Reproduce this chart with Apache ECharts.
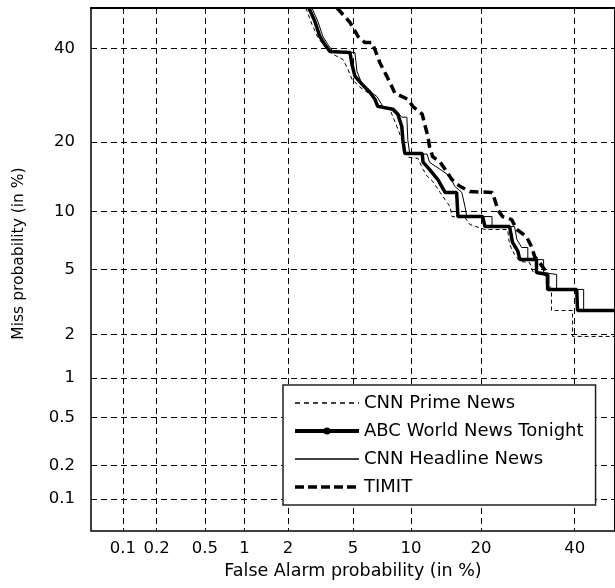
<!DOCTYPE html>
<html>
<head>
<meta charset="utf-8">
<script src="https://cdn.jsdelivr.net/npm/echarts@6/dist/echarts.min.js"></script>
<style>
  html, body { margin: 0; padding: 0; background: #fff; }
  #det { width: 615px; height: 588px; }
</style>
</head>
<body>
<div id="det"></div>
<script>
// tick labels (percent) used on both axes
var tickLabels = ['0.1', '0.2', '0.5', '1', '2', '5', '10', '20', '40'];

// CNN Prime News (false alarm %, miss %)
var primeFA = [2.61, 2.85, 3.10, 3.52, 3.93, 4.38, 4.68, 4.93, 5.47, 6.34, 6.81, 7.87, 8.54, 9.03, 9.34, 9.66, 10.8, 11.4, 11.9, 12.6, 13.6, 14.3, 15.0, 15.3, 17.3, 18.1, 20.7, 21.6, 25.0, 25.4, 26.4, 27.5, 29.6, 30.3, 32.9, 33.6, 34.5, 34.5, 39.5, 39.5, 50];
var primeMiss = [50, 45.9, 42.7, 39.7, 38.3, 37.3, 35.0, 32.7, 30.9, 29.1, 27.2, 26.2, 22.8, 20.4, 18.7, 17.4, 17.2, 15.5, 14.5, 13.8, 12.3, 11.4, 10.6, 9.47, 9.37, 8.66, 8.17, 8.17, 8.17, 6.84, 6.05, 5.54, 5.46, 4.87, 4.68, 4.38, 3.72, 2.85, 2.85, 1.94, 1.94];

// ABC World News Tonight
var abcFA = [2.73, 2.97, 3.19, 3.42, 3.67, 4.80, 4.93, 5.12, 5.60, 6.19, 6.58, 6.81, 8.15, 8.63, 9.03, 9.14, 9.34, 11.3, 11.4, 12.2, 13.3, 14.3, 16.0, 16.2, 20.3, 20.7, 25.4, 26.0, 27.1, 27.5, 31.1, 31.1, 33.6, 33.6, 40.5, 40.7, 50];
var abcMiss = [50, 46.7, 42.9, 40.9, 39.2, 39.0, 36.1, 33.4, 31.6, 29.8, 28.3, 26.8, 26.2, 25.2, 22.8, 20.4, 18.0, 18.0, 16.6, 15.5, 14.0, 12.3, 12.3, 9.47, 9.47, 8.46, 8.46, 7.01, 6.28, 5.67, 5.67, 4.80, 4.68, 3.83, 3.83, 2.85, 2.85];

// CNN Headline News
var headFA = [2.85, 3.10, 3.33, 3.57, 3.83, 5.12, 5.26, 5.67, 6.74, 7.24, 8.34, 9.03, 9.56, 9.66, 9.87, 11.9, 12.2, 13.6, 15.0, 15.7, 16.8, 17.3, 17.6, 22.0, 22.0, 26.4, 26.9, 27.9, 29.2, 29.2, 32.7, 32.7, 35.7, 35.7, 42.2, 42.2, 50];
var headMiss = [50, 46.7, 42.9, 40.9, 39.2, 39.0, 34.5, 31.1, 28.9, 26.8, 26.2, 24.6, 24.6, 20.4, 17.9, 17.9, 16.6, 15.5, 14.5, 13.1, 12.3, 10.6, 9.47, 9.47, 8.46, 8.46, 7.25, 6.59, 6.59, 5.67, 5.67, 4.80, 4.68, 3.83, 3.83, 2.85, 2.85];

// TIMIT
var timitFA = [4.05, 4.80, 5.33, 5.81, 6.34, 6.58, 6.98, 7.59, 8.05, 8.34, 9.66, 10.2, 11.3, 11.6, 12.0, 12.2, 12.6, 13.6, 14.3, 15.3, 16.5, 18.1, 22.0, 22.5, 23.1, 24.0, 25.8, 26.9, 28.9, 30.0, 30.7, 31.8, 32.9, 33.6, 33.6];
var timitMiss = [50, 46.4, 42.9, 41.4, 41.4, 39.7, 36.6, 33.4, 31.1, 29.6, 28.3, 26.8, 25.2, 23.2, 21.0, 19.2, 17.5, 16.6, 15.5, 14.0, 13.1, 12.4, 12.3, 11.4, 10.2, 9.47, 9.16, 8.17, 7.52, 6.67, 5.89, 5.46, 5.00, 4.68, 3.83];

// inverse normal CDF (Acklam) -> DET axis is in normal deviates
function probit(p) {
    var a = [-3.969683028665376e+01, 2.209460984245205e+02, -2.759285104469687e+02, 1.383577518672690e+02, -3.066479806614716e+01, 2.506628277459239e+00];
    var b = [-5.447609879822406e+01, 1.615858368580409e+02, -1.556989798598866e+02, 6.680131188771972e+01, -1.328068155288572e+01];
    var c = [-7.784894002430293e-03, -3.223964580411365e-01, -2.400758276161838e+00, -2.549732539343734e+00, 4.374664141464968e+00, 2.938163982698783e+00];
    var d = [7.784695709041462e-03, 3.224671290700398e-01, 2.445134137142996e+00, 3.754408661907416e+00];
    var pl = 0.02425, q, r;
    if (p < pl) {
        q = Math.sqrt(-2 * Math.log(p));
        return (((((c[0]*q+c[1])*q+c[2])*q+c[3])*q+c[4])*q+c[5]) / ((((d[0]*q+d[1])*q+d[2])*q+d[3])*q+1);
    }
    if (p > 1 - pl) {
        q = Math.sqrt(-2 * Math.log(1 - p));
        return -(((((c[0]*q+c[1])*q+c[2])*q+c[3])*q+c[4])*q+c[5]) / ((((d[0]*q+d[1])*q+d[2])*q+d[3])*q+1);
    }
    q = p - 0.5; r = q * q;
    return (((((a[0]*r+a[1])*r+a[2])*r+a[3])*r+a[4])*r+a[5])*q / (((((b[0]*r+b[1])*r+b[2])*r+b[3])*r+b[4])*r+1);
}

function toDet(fa, miss) {
    return fa.map(function (v, i) {
        return [probit(v / 100), probit(miss[i] / 100)];
    });
}

var tickPos = tickLabels.map(function (t) { return probit(parseFloat(t) / 100); });
function tickFmt(value) {
    var best = 0;
    for (var i = 1; i < tickPos.length; i++) {
        if (Math.abs(tickPos[i] - value) < Math.abs(tickPos[best] - value)) best = i;
    }
    return tickLabels[best];
}

var FONT = 'DejaVu Sans';
var axMin = probit(0.0005);
var axMax = 0;

var chart = echarts.init(document.getElementById('det'), null, { renderer: 'canvas' });

var option = {
    animation: false,
    backgroundColor: '#fff',
    grid: {
        left: 91,
        right: -1,
        top: 8,
        bottom: 57,
        show: true,
        borderColor: '#000',
        borderWidth: 1.5
    },
    legend: {
        orient: 'vertical',
        left: 283,
        top: 385,
        padding: [9, 12, 9, 10],
        itemWidth: 64,
        itemHeight: 9,
        itemGap: 10,
        backgroundColor: '#fff',
        borderColor: '#222',
        borderWidth: 1.5,
        textStyle: { fontFamily: FONT, fontSize: 18, color: '#000' },
        data: [
            { name: 'CNN Prime News', itemStyle: { opacity: 0 }, lineStyle: { color: '#000', width: 1.3, type: [5, 4] } },
            { name: 'ABC World News Tonight', itemStyle: { color: '#000' }, lineStyle: { color: '#000', width: 4 } },
            { name: 'CNN Headline News', itemStyle: { opacity: 0 }, lineStyle: { color: '#000', width: 1.3 } },
            { name: 'TIMIT', itemStyle: { opacity: 0 }, lineStyle: { color: '#000', width: 3.5, type: [9, 4] } }
        ]
    },
    xAxis: {
        type: 'value',
        min: axMin,
        max: axMax,
        name: 'False Alarm probability (in %)',
        nameLocation: 'middle',
        nameGap: 31,
        nameTextStyle: { fontFamily: FONT, fontSize: 17.5, color: '#000' },
        axisLine: { show: true, lineStyle: { color: '#000', width: 2 } },
        axisTick: { show: false, customValues: tickPos },
        axisLabel: {
            customValues: tickPos,
            formatter: tickFmt,
            margin: 9,
            fontFamily: FONT,
            fontSize: 16.5,
            color: '#000'
        },
        splitLine: { show: true, lineStyle: { color: '#000', width: 1, type: [6, 4] } }
    },
    yAxis: {
        type: 'value',
        min: axMin,
        max: axMax,
        name: 'Miss probability (in %)',
        nameLocation: 'middle',
        nameRotate: 90,
        nameGap: 64,
        nameTextStyle: { fontFamily: FONT, fontSize: 15.5, color: '#000', padding: [0, 0, 0, 32] },
        axisLine: { show: true, lineStyle: { color: '#000', width: 2 } },
        axisTick: { show: false, customValues: tickPos },
        axisLabel: {
            customValues: tickPos,
            formatter: tickFmt,
            margin: 16,
            fontFamily: FONT,
            fontSize: 16.5,
            color: '#000'
        },
        splitLine: { show: true, lineStyle: { color: '#000', width: 1, type: [6, 4] } }
    },
    series: [{
        name: 'CNN Prime News',
        type: 'line',
        showSymbol: false,
        symbol: 'none',
        clip: true,
        lineStyle: { color: '#000', width: 1, type: [4, 3] },
        itemStyle: { color: '#000' },
        data: toDet(primeFA, primeMiss)
    }, {
        name: 'ABC World News Tonight',
        type: 'line',
        showSymbol: false,
        symbol: 'circle',
        clip: true,
        lineStyle: { color: '#000', width: 3.5 },
        itemStyle: { color: '#000' },
        data: toDet(abcFA, abcMiss)
    }, {
        name: 'CNN Headline News',
        type: 'line',
        showSymbol: false,
        symbol: 'none',
        clip: true,
        lineStyle: { color: '#000', width: 1 },
        itemStyle: { color: '#000' },
        data: toDet(headFA, headMiss)
    }, {
        name: 'TIMIT',
        type: 'line',
        showSymbol: false,
        symbol: 'none',
        clip: true,
        lineStyle: { color: '#000', width: 3.5, type: [9, 5] },
        itemStyle: { color: '#000' },
        data: toDet(timitFA, timitMiss)
    }]
};

chart.setOption(option);
</script>
</body>
</html>
